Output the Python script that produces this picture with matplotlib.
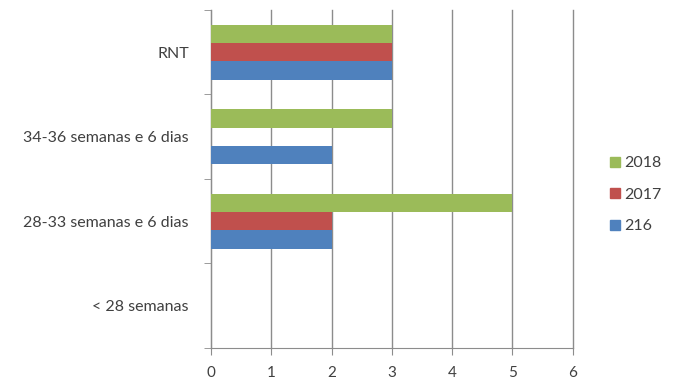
import numpy as np
import matplotlib
matplotlib.use("Agg")
import matplotlib.pyplot as plt
from matplotlib.patches import Patch

plt.rcParams['font.family'] = ['Lato', 'DejaVu Sans']

categories = ["< 28 semanas", "28-33 semanas e 6 dias", "34-36 semanas e 6 dias", "RNT"]
series_names = ["216", "2017", "2018"]
vals_216 = [0, 2, 2, 3]
vals_2017 = [0, 2, 0, 3]
vals_2018 = [0, 5, 3, 3]
colors = ["#4F81BD", "#C0504D", "#9BBB59"]

fig = plt.figure(figsize=(6.73, 3.82), dpi=100)
ax = fig.add_axes([0.3135, 0.089, 0.5375, 0.885])

y = np.arange(len(categories))
h = 0.217
for k, (vals, col) in enumerate(zip([vals_216, vals_2017, vals_2018], colors)):
    ax.barh(y + (k - 1) * h, vals, height=h, color=col, zorder=3)

ax.set_xlim(0, 6)
ax.set_ylim(-0.5, len(categories) - 0.5)
ax.set_xticks(range(0, 7))
ax.xaxis.grid(True, color="#8c8c8c", linewidth=1, zorder=0)
for gl in ax.get_xgridlines():
    gl.set_clip_on(False)

# category labels in the middle, tick marks on the boundaries
ax.set_yticks(y)
ax.set_yticklabels(categories)
ax.set_yticks(np.arange(-0.5, len(categories)), minor=True)
ax.tick_params(axis="y", which="major", length=0, pad=16, labelsize=11.5, labelcolor="#404040")
ax.tick_params(axis="y", which="minor", length=5, color="#8c8c8c", direction="out")
ax.tick_params(axis="x", length=5, color="#8c8c8c", direction="out", labelsize=11,
               labelcolor="#404040", pad=8)

for side in ["top", "right"]:
    ax.spines[side].set_visible(False)
for side in ["left", "bottom"]:
    ax.spines[side].set_color("#8c8c8c")

handles = [Patch(color=c, label=n) for c, n in zip(colors, series_names)][::-1]
fig.legend(handles=handles, loc="center left", bbox_to_anchor=(0.885, 0.49),
           frameon=False, fontsize=11.5, handlelength=0.6, handleheight=0.6,
           handletextpad=0.3, labelspacing=1.1, labelcolor="#404040")

fig.savefig("out.png", dpi=100)
